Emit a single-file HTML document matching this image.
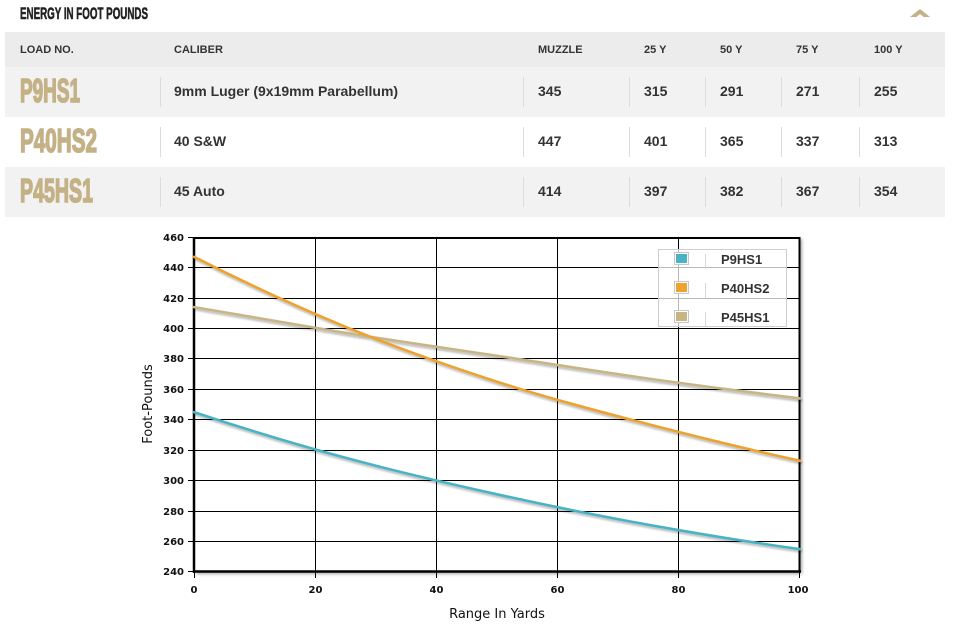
<!DOCTYPE html>
<html>
<head>
<meta charset="utf-8">
<style>
  html, body { margin:0; padding:0; background:#fff; }
  body { width:955px; height:631px; overflow:hidden; }
  svg { display:block; }
  .h { font-family:"Liberation Sans", Arial, sans-serif; font-weight:bold; font-size:11px; fill:#333; }
  .c { font-family:"Liberation Sans", Arial, sans-serif; font-weight:bold; font-size:14px; fill:#333; }
  .ld { font-family:"Liberation Sans", Arial, sans-serif; font-weight:bold; font-size:33px; fill:#c4b185; stroke:#c4b185; stroke-width:1.6px; }
  .tk { font-family:"DejaVu Sans", "Liberation Sans", sans-serif; font-weight:bold; font-size:10px; fill:#111; }
  .ax { font-family:"DejaVu Sans", "Liberation Sans", sans-serif; font-size:13px; fill:#111; }
  .lg { font-family:"Liberation Sans", Arial, sans-serif; font-weight:bold; font-size:13px; fill:#333; }
</style>
</head>
<body>
<svg width="955" height="631" viewBox="0 0 955 631" xmlns="http://www.w3.org/2000/svg">
  <defs>
    <filter id="sh" x="-5%" y="-5%" width="110%" height="120%">
      <feGaussianBlur in="SourceAlpha" stdDeviation="1"/>
      <feOffset dx="1" dy="2" result="o"/>
      <feComponentTransfer><feFuncA type="linear" slope="0.3"/></feComponentTransfer>
      <feMerge><feMergeNode/><feMergeNode in="SourceGraphic"/></feMerge>
    </filter>
    <filter id="bsh" x="-5%" y="-5%" width="110%" height="110%">
      <feGaussianBlur in="SourceAlpha" stdDeviation="1.5"/>
      <feOffset dx="2" dy="2"/>
      <feComponentTransfer><feFuncA type="linear" slope="0.35"/></feComponentTransfer>
    </filter>
  </defs>

  <!-- Title -->
  <text x="20" y="19" font-family="Liberation Sans, Arial, sans-serif" font-weight="bold" font-size="16.5" fill="#222" stroke="#222" stroke-width="0.6" textLength="128" lengthAdjust="spacingAndGlyphs">ENERGY IN FOOT POUNDS</text>
  <polygon points="910,17 920,9 930,17" fill="#c4b185"/>
  <polygon points="916,17.2 920,14 924,17.2" fill="#fff"/>

  <!-- Table backgrounds -->
  <rect x="5" y="32" width="940" height="35" fill="#ececec"/>
  <rect x="5" y="67" width="940" height="50" fill="#f2f2f2"/>
  <rect x="5" y="117" width="940" height="50" fill="#ffffff"/>
  <rect x="5" y="167" width="940" height="50" fill="#f2f2f2"/>

  <!-- Header -->
  <text class="h" x="20" y="53">LOAD NO.</text>
  <text class="h" x="174" y="53">CALIBER</text>
  <text class="h" x="538" y="53">MUZZLE</text>
  <text class="h" x="644" y="53">25 Y</text>
  <text class="h" x="720" y="53">50 Y</text>
  <text class="h" x="796" y="53">75 Y</text>
  <text class="h" x="874" y="53">100 Y</text>

  <!-- separators -->
  <g stroke="#dcdcdc" stroke-width="1">
    <line x1="160.5" y1="77" x2="160.5" y2="107"/><line x1="523.5" y1="77" x2="523.5" y2="107"/>
    <line x1="629.5" y1="77" x2="629.5" y2="107"/><line x1="705.5" y1="77" x2="705.5" y2="107"/>
    <line x1="781.5" y1="77" x2="781.5" y2="107"/><line x1="859.5" y1="77" x2="859.5" y2="107"/>
    <line x1="160.5" y1="127" x2="160.5" y2="157"/><line x1="523.5" y1="127" x2="523.5" y2="157"/>
    <line x1="629.5" y1="127" x2="629.5" y2="157"/><line x1="705.5" y1="127" x2="705.5" y2="157"/>
    <line x1="781.5" y1="127" x2="781.5" y2="157"/><line x1="859.5" y1="127" x2="859.5" y2="157"/>
    <line x1="160.5" y1="177" x2="160.5" y2="207"/><line x1="523.5" y1="177" x2="523.5" y2="207"/>
    <line x1="629.5" y1="177" x2="629.5" y2="207"/><line x1="705.5" y1="177" x2="705.5" y2="207"/>
    <line x1="781.5" y1="177" x2="781.5" y2="207"/><line x1="859.5" y1="177" x2="859.5" y2="207"/>
  </g>

  <!-- Rows -->
  <text class="ld" x="20" y="102" textLength="60" lengthAdjust="spacingAndGlyphs">P9HS1</text>
  <text class="c" x="174" y="96">9mm Luger (9x19mm Parabellum)</text>
  <text class="c" x="538" y="96">345</text><text class="c" x="644" y="96">315</text>
  <text class="c" x="720" y="96">291</text><text class="c" x="796" y="96">271</text>
  <text class="c" x="874" y="96">255</text>

  <text class="ld" x="20" y="152" textLength="77" lengthAdjust="spacingAndGlyphs">P40HS2</text>
  <text class="c" x="174" y="146">40 S&amp;W</text>
  <text class="c" x="538" y="146">447</text><text class="c" x="644" y="146">401</text>
  <text class="c" x="720" y="146">365</text><text class="c" x="796" y="146">337</text>
  <text class="c" x="874" y="146">313</text>

  <text class="ld" x="20" y="202" textLength="73" lengthAdjust="spacingAndGlyphs">P45HS1</text>
  <text class="c" x="174" y="196">45 Auto</text>
  <text class="c" x="538" y="196">414</text><text class="c" x="644" y="196">397</text>
  <text class="c" x="720" y="196">382</text><text class="c" x="796" y="196">367</text>
  <text class="c" x="874" y="196">354</text>

  <!-- Chart -->
  <rect x="194" y="237" width="606" height="335" fill="#000" filter="url(#bsh)"/>
  <rect x="194" y="237" width="606" height="335" fill="#fff"/>

  <!-- grid -->
  <g stroke="#000" stroke-width="1">
    <line x1="194" y1="267.5" x2="800" y2="267.5"/>
    <line x1="194" y1="298.5" x2="800" y2="298.5"/>
    <line x1="194" y1="328.5" x2="800" y2="328.5"/>
    <line x1="194" y1="358.5" x2="800" y2="358.5"/>
    <line x1="194" y1="389.5" x2="800" y2="389.5"/>
    <line x1="194" y1="419.5" x2="800" y2="419.5"/>
    <line x1="194" y1="450.5" x2="800" y2="450.5"/>
    <line x1="194" y1="480.5" x2="800" y2="480.5"/>
    <line x1="194" y1="511.5" x2="800" y2="511.5"/>
    <line x1="194" y1="541.5" x2="800" y2="541.5"/>
    <line x1="315.5" y1="237" x2="315.5" y2="572"/>
    <line x1="436.5" y1="237" x2="436.5" y2="572"/>
    <line x1="557.5" y1="237" x2="557.5" y2="572"/>
    <line x1="678.5" y1="237" x2="678.5" y2="572"/>
  </g>
  <!-- ticks -->
  <g stroke="#000" stroke-width="1">
    <line x1="188" y1="237.5" x2="194" y2="237.5"/>
    <line x1="188" y1="267.5" x2="194" y2="267.5"/>
    <line x1="188" y1="298.5" x2="194" y2="298.5"/>
    <line x1="188" y1="328.5" x2="194" y2="328.5"/>
    <line x1="188" y1="358.5" x2="194" y2="358.5"/>
    <line x1="188" y1="389.5" x2="194" y2="389.5"/>
    <line x1="188" y1="419.5" x2="194" y2="419.5"/>
    <line x1="188" y1="450.5" x2="194" y2="450.5"/>
    <line x1="188" y1="480.5" x2="194" y2="480.5"/>
    <line x1="188" y1="511.5" x2="194" y2="511.5"/>
    <line x1="188" y1="541.5" x2="194" y2="541.5"/>
    <line x1="188" y1="571.5" x2="194" y2="571.5"/>
    <line x1="194.5" y1="572" x2="194.5" y2="578"/>
    <line x1="315.5" y1="572" x2="315.5" y2="578"/>
    <line x1="436.5" y1="572" x2="436.5" y2="578"/>
    <line x1="557.5" y1="572" x2="557.5" y2="578"/>
    <line x1="678.5" y1="572" x2="678.5" y2="578"/>
    <line x1="799.5" y1="572" x2="799.5" y2="578"/>
  </g>
  <!-- frame -->
  <line x1="193" y1="238" x2="800" y2="238" stroke="#000" stroke-width="2"/>
  <line x1="799.5" y1="237" x2="799.5" y2="572" stroke="#000" stroke-width="2"/>
  <line x1="194" y1="237" x2="194" y2="573" stroke="#000" stroke-width="2.5"/>
  <line x1="193" y1="571.5" x2="801" y2="571.5" stroke="#000" stroke-width="2.5"/>

  <!-- series -->
  <g fill="none" stroke-width="2.6" stroke-linecap="round" filter="url(#sh)">
    <path stroke="#c8b584" d="M194,307.1 C244.5,316.18 295,324.78 345.5,332.9 C396,341.02 446.5,348.18 497,355.8 C547.5,363.42 598,371.5 648.5,378.6 C699,385.7 749.5,392.3 800,398.4"/>
    <path stroke="#eea22f" d="M194,256.8 C244.5,282.65 295,306 345.5,326.8 C396,347.6 446.5,365.45 497,381.7 C547.5,397.95 598,411.1 648.5,424.3 C699,437.5 749.5,449.65 800,460.8"/>
    <path stroke="#4ab3c6" d="M194,412.1 C244.5,428.9 295,444.1 345.5,457.8 C396,471.5 446.5,483.1 497,494.3 C547.5,505.5 598,515.7 648.5,524.8 C699,533.9 749.5,542.1 800,549.2"/>
  </g>

  <!-- y tick labels -->
  <g class="tk" text-anchor="end">
    <text x="184" y="241">460</text>
    <text x="184" y="271">440</text>
    <text x="184" y="302">420</text>
    <text x="184" y="332">400</text>
    <text x="184" y="362">380</text>
    <text x="184" y="393">360</text>
    <text x="184" y="423">340</text>
    <text x="184" y="454">320</text>
    <text x="184" y="484">300</text>
    <text x="184" y="515">280</text>
    <text x="184" y="545">260</text>
    <text x="184" y="575">240</text>
  </g>
  <!-- x tick labels -->
  <g class="tk" text-anchor="middle">
    <text x="194" y="593">0</text>
    <text x="315.5" y="593">20</text>
    <text x="436.5" y="593">40</text>
    <text x="557.5" y="593">60</text>
    <text x="678.5" y="593">80</text>
    <text x="798" y="593">100</text>
  </g>

  <text class="ax" x="497" y="618" text-anchor="middle">Range In Yards</text>
  <text class="ax" transform="translate(152,404) rotate(-90)" text-anchor="middle">Foot-Pounds</text>

  <!-- legend -->
  <rect x="658.5" y="249.5" width="128" height="77" fill="#fff" fill-opacity="0.72" stroke="#cfcfcf" stroke-width="1"/>
  <rect x="674.5" y="252.5" width="14" height="12" fill="#fff" stroke="#c8c8c8"/>
  <rect x="676" y="254" width="11" height="9" fill="#4ab3c6"/>
  <rect x="674.5" y="281.5" width="14" height="12" fill="#fff" stroke="#c8c8c8"/>
  <rect x="676" y="283" width="11" height="9" fill="#eea22f"/>
  <rect x="674.5" y="310.5" width="14" height="12" fill="#fff" stroke="#c8c8c8"/>
  <rect x="676" y="312" width="11" height="9" fill="#c8b584"/>
  <g stroke="#d8d8d8" stroke-width="1">
    <line x1="705.5" y1="254" x2="705.5" y2="269"/>
    <line x1="705.5" y1="283" x2="705.5" y2="298"/>
    <line x1="705.5" y1="312" x2="705.5" y2="326"/>
  </g>
  <text class="lg" x="721" y="264">P9HS1</text>
  <text class="lg" x="721" y="293">P40HS2</text>
  <text class="lg" x="721" y="322">P45HS1</text>
</svg>
</body>
</html>
